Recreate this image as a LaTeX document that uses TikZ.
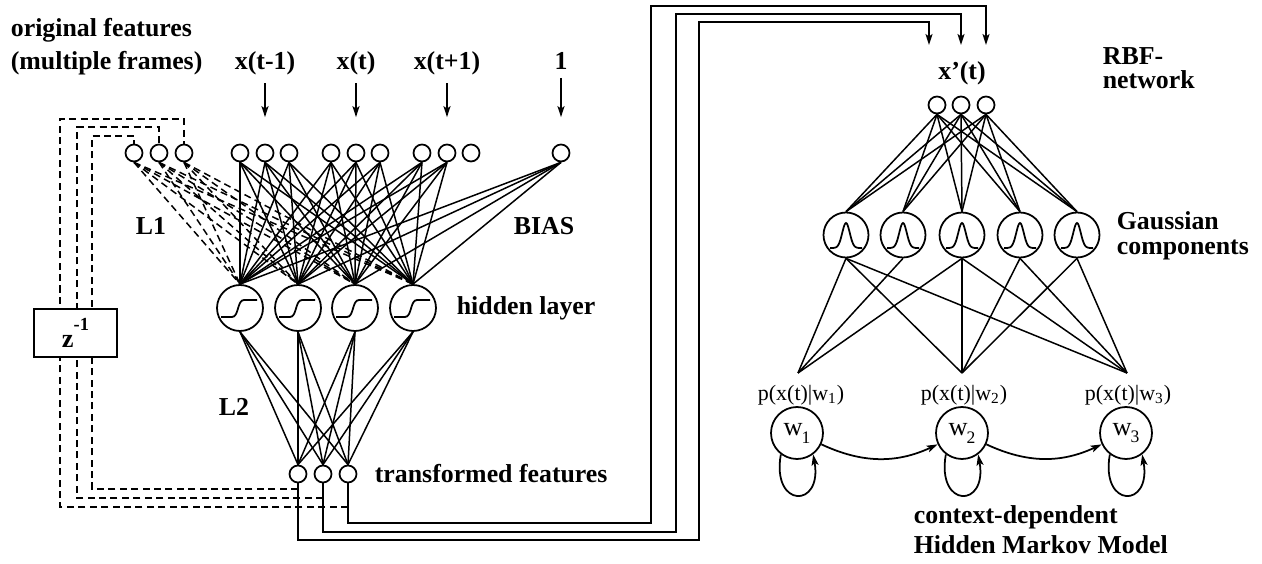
\documentclass[tikz,border=0pt]{standalone}
\usepackage{fontspec}
\setmainfont{Liberation Serif}
\usetikzlibrary{arrows.meta}

\newcommand{\lblfont}{\fontsize{14.7}{17}\selectfont\bfseries}
\newcommand{\wsub}[1]{w\kern-0.5pt\raisebox{-4.5pt}{\fontsize{10}{10}\selectfont #1}}

\begin{document}
\begin{tikzpicture}[x=0.02cm, y=-0.02cm, line width=1pt,
        unit/.style={circle, draw, inner sep=0pt, minimum size=0.34cm},
        neuron/.style={circle, draw, inner sep=0pt, minimum size=0.92cm},
        gauss/.style={circle, draw, inner sep=0pt, minimum size=0.9cm},
        hmmstate/.style={circle, draw, inner sep=0pt, minimum size=1.04cm, font=\fontsize{15}{15}\selectfont},
        lbl/.style={font=\lblfont, inner sep=0pt},
        plbl/.style={font=\fontsize{12.5}{14}\selectfont, inner sep=0pt},
        arr/.style={-{Stealth[length=0.22cm, width=0.14cm, inset=0.05cm]}},
        fb/.style={dash pattern=on 4pt off 2.5pt},
        wt/.style={line width=0.85pt}]
    \useasboundingbox (0,0) rectangle (1262,564);

    \foreach \n/\x in {1/134, 2/159, 3/184}
        \node[unit] (d\n) at (\x,153) {};
    \foreach \n/\x in {1/240, 2/265, 3/289, 4/331, 5/356, 6/380, 7/422, 8/447, 9/471}
        \node[unit] (i\n) at (\x,153) {};
    \node[unit] (bias) at (561,153) {};

    \foreach \n/\x in {1/240, 2/298, 3/355, 4/413}
        \node[neuron] (h\n) at (\x,308) {};
    \foreach \n in {1,...,4}
        \draw[shift={(h\n)}] (-19,9) -- (-8,9) .. controls (-1,9) and (-3,-8) .. (4,-8) -- (17,-8);

    \foreach \n/\x in {1/298, 2/323, 3/348}
        \node[unit] (t\n) at (\x,474) {};

    \foreach \i in {1,...,8}
        \foreach \j in {1,...,4}
            \draw[wt] (i\i.south) -- (h\j.north);
    \foreach \j in {1,...,4}
        \draw[wt] (bias.south) -- (h\j.north);
    \foreach \i in {1,2,3}
        \foreach \j in {1,...,4}
            \draw[wt, fb] (d\i.south) -- (h\j.north);
    \foreach \i in {1,...,4}
        \foreach \j in {1,2,3}
            \draw[wt] (h\i.south) -- (t\j.north);

    \node[lbl, anchor=base west] (orig1) at (10,37) {original features};
    \node[lbl, anchor=base west] (orig2) at (10,70) {(multiple frames)};
    \node[lbl, anchor=base] (lx1) at (265,70) {x(t-1)};
    \node[lbl, anchor=base] (lx2) at (356,70) {x(t)};
    \node[lbl, anchor=base] (lx3) at (447,70) {x(t+1)};
    \node[lbl, anchor=base] (lx4) at (561,70) {1};
    \draw[arr, shorten <=4pt, shorten >=0.53cm] (lx1) -- (i2);
    \draw[arr, shorten <=4pt, shorten >=0.53cm] (lx2) -- (i5);
    \draw[arr, shorten <=4pt, shorten >=0.53cm] (lx3) -- (i8);
    \draw[arr, shorten <=4pt, shorten >=0.53cm] (lx4) -- (bias);

    \node[lbl, anchor=base west] (l1) at (135,235) {L1};
    \node[lbl, anchor=base west] (biaslbl) at (513,235) {BIAS};
    \node[lbl, anchor=base west] (hidlbl) at (456,315) {hidden layer};
    \node[lbl, anchor=base west] (l2) at (218,416) {L2};
    \node[lbl, anchor=base west] (trlbl) at (374,482) {transformed features};

    \draw[wt, fb] (t1.south |- 0,489) -| (92,136) -| (d1.north);
    \draw[wt, fb] (t2.south |- 0,498) -| (77,127) -| (d2.north);
    \draw[wt, fb] (t3.south |- 0,507) -| (60,119) -| (d3.north);
    \node[draw, fill=white, minimum width=1.66cm, minimum height=0.96cm, inner sep=0pt] (delay) at (75.5,333)
        {\fontsize{15}{15}\selectfont\bfseries z\raisebox{9.5pt}{\fontsize{10.5}{10.5}\selectfont -1}};

    \foreach \n/\x in {1/937, 2/961, 3/986}
        \node[unit] (r\n) at (\x,105) {};
    \foreach \n/\x in {1/846, 2/903, 3/962, 4/1020, 5/1077}
        \node[gauss] (g\n) at (\x,235) {};
    \foreach \n in {1,...,5}
        \draw[shift={(g\n)}] plot[domain=-16:16, samples=41, smooth] (\x, {13-25*exp(-((\x)/5.3)*((\x)/5.3))});
    \foreach \i in {1,2,3}
        \foreach \j in {1,...,5}
            \draw[wt] (r\i.south) -- (g\j.north);

    \coordinate (e1) at (929,45);
    \coordinate (e2) at (961,45);
    \coordinate (e3) at (986,45);
    \draw[arr] (t1.south) |- (699,540) |- (929,22) -- (e1);
    \draw[arr] (t2.south) |- (676,532) |- (961,14) -- (e2);
    \draw[arr] (t3.south) |- (651,523) |- (986,6) -- (e3);

    \node[lbl, anchor=base] (xprime) at (962,80) {x'(t)};
    \node[lbl, anchor=base west] (rbf1) at (1102,65) {RBF-};
    \node[lbl, anchor=base west] (rbf2) at (1102,89) {network};
    \node[lbl, anchor=base west] (gc1) at (1116,230) {Gaussian};
    \node[lbl, anchor=base west] (gc2) at (1116,255) {components};

    \foreach \n/\x in {1/797, 2/962, 3/1126}
        \node[hmmstate] (w\n) at (\x,433) {\wsub{\n}};
    \coordinate (c1) at (798,373);
    \coordinate (c2) at (962,373);
    \coordinate (c3) at (1127,373);
    \node[plbl, anchor=base] (p1) at (801,400) {p(x(t)|w\textsubscript{1})};
    \node[plbl, anchor=base] (p2) at (964,400) {p(x(t)|w\textsubscript{2})};
    \node[plbl, anchor=base] (p3) at (1128,400) {p(x(t)|w\textsubscript{3})};
    \foreach \g/\w in {1/1, 2/1, 3/1, 1/2, 3/2, 4/2, 5/2, 1/3, 3/3, 4/3, 5/3}
        \draw[wt] (g\g.south) -- (c\w);

    \foreach \n in {1,2,3}
        \draw[arr] (w\n.-127) .. controls +(-100:1.1cm) and +(-80:1.1cm) .. (w\n.-53);
    \draw[arr] (w1) to[out=-25, in=-155] (w2);
    \draw[arr] (w2) to[out=-25, in=-155] (w3);

    \node[lbl, anchor=base west] (hmm1) at (913,523) {context-dependent};
    \node[lbl, anchor=base west] (hmm2) at (913,553) {Hidden Markov Model};
\end{tikzpicture}
\end{document}
